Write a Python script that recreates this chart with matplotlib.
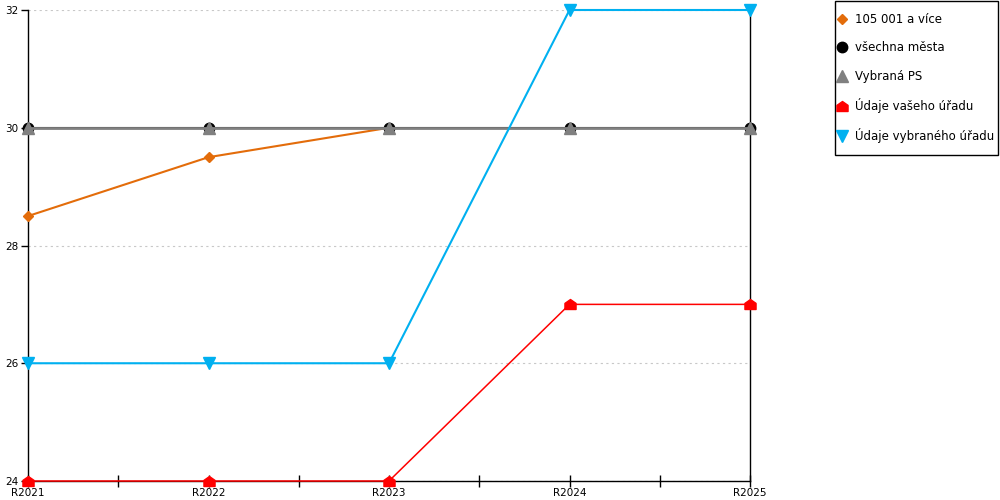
import numpy as np
import matplotlib
matplotlib.use("Agg")
import matplotlib.pyplot as plt
from matplotlib.path import Path
from matplotlib.ticker import FixedLocator
from matplotlib.lines import Line2D
from matplotlib.patches import Rectangle

categories = ["R2021", "R2022", "R2023", "R2024", "R2025"]
s_105001 = [28.5, 29.5, 30, np.nan, np.nan]
s_mesta = [30, 30, 30, 30, 30]
s_ps = [30, 30, 30, 30, 30]
s_vas = [24, 24, 24, 27, 27]
s_vybr = [26, 26, 26, 32, 32]
labels = ["105 001 a více", "všechna města", "Vybraná PS", "Údaje vašeho úřadu", "Údaje vybraného úřadu"]
yticks = [24, 26, 28, 30, 32]

plt.rcParams['font.family'] = ['DejaVu Sans']

house = Path([(-1, -0.9), (1, -0.9), (1, 0.2), (0, 0.9), (-1, 0.2), (-1, -0.9)],
             [Path.MOVETO, Path.LINETO, Path.LINETO, Path.LINETO, Path.LINETO, Path.CLOSEPOLY])

fig = plt.figure(figsize=(10, 5), dpi=100)
ax = fig.add_axes([0.028, 0.038, 0.722, 0.942])
x = np.arange(len(categories))

styles = [
    dict(color="#E36C0A", lw=1.5, marker="D", ms=5.5),
    dict(color="#000000", lw=1.5, marker="o", ms=7.5),
    dict(color="#808080", lw=2, marker="^", ms=8),
    dict(color="#FF0000", lw=1.1, marker=house, ms=8),
    dict(color="#00B0F0", lw=1.5, marker="v", ms=8),
]
series = [s_105001, s_mesta, s_ps, s_vas, s_vybr]
for i, (s, st) in enumerate(zip(series, styles)):
    ax.plot(x, s, label=labels[i], zorder=3 + i, clip_on=False, **st)

ax.set_xlim(0, len(categories) - 1)
ax.set_ylim(24, 32)
ax.set_xticks(x)
ax.set_xticklabels(categories)
ax.xaxis.set_minor_locator(FixedLocator(x[:-1] + 0.5))
ax.set_yticks(yticks)
ax.tick_params(axis='x', which='both', direction='inout', length=8, width=1, labelsize=7.5, pad=1)
ax.tick_params(axis='y', which='major', direction='out', length=5, width=1, labelsize=7.5, pad=2)
ax.grid(axis='y', color='#C8C8C8', linestyle=(0, (2, 3)), lw=0.8)
ax.set_axisbelow(True)
ax.spines['top'].set_visible(False)
for s in ['left', 'right', 'bottom']:
    ax.spines[s].set_color('black')
    ax.spines[s].set_linewidth(1)

leg_handles = [Line2D([], [], ls='none', marker=st['marker'], color=st['color'], ms=st['ms'])
               for st in styles]
leg = fig.legend(leg_handles, labels, loc='upper left', bbox_to_anchor=(0.838, 1 - 13 / 500),
                 fontsize=8.5, frameon=False, labelspacing=1.30, handlelength=0.75,
                 handletextpad=0.69, borderpad=0, borderaxespad=0)
fig.patches.append(Rectangle((0.835, 1 - 155 / 500), 0.163, 154 / 500, transform=fig.transFigure,
                             fill=False, ec='black', lw=1))

fig.savefig("out.png", dpi=100)
